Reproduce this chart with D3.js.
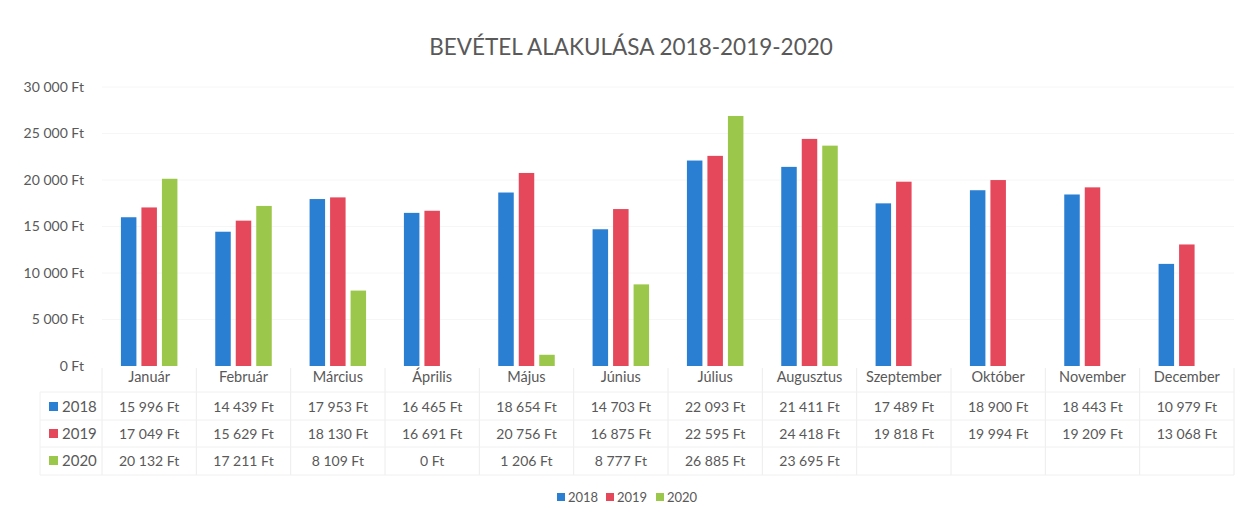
<!DOCTYPE html>
<html><head><meta charset="utf-8">
<script src="https://cdn.jsdelivr.net/npm/d3@7"></script>
<style>body{margin:0;background:#fff}text{font-family:Lato,"Open Sans",sans-serif;fill:#595959}</style>
</head><body><svg id="c" width="1244" height="522"></svg>
<script>
const months = ["Január","Február","Március","Április","Május","Június","Július","Augusztus","Szeptember","Október","November","December"];
const seriesNames = ["2018","2019","2020"];
const v2018 = [15996,14439,17953,16465,18654,14703,22093,21411,17489,18900,18443,10979];
const v2019 = [17049,15629,18130,16691,20756,16875,22595,24418,19818,19994,19209,13068];
const v2020 = [20132,17211,8109,0,1206,8777,26885,23695,null,null,null,null];
const colors = ["#2b7fd3","#e5475b","#9bc84b"];
const yTicks = [0,5000,10000,15000,20000,25000,30000];
const title = "BEVÉTEL ALAKULÁSA 2018-2019-2020";

const values = [v2018, v2019, v2020];
const loc = d3.formatLocale({decimal:",", thousands:"\u00a0", grouping:[3], currency:["","\u00a0Ft"]});
const fmt = loc.format("$,.0f");

const svg = d3.select("#c");
const L = 102, R = 1234, T = 87, B = 366;
const x = d3.scaleBand().domain(months).range([L, R]);
const x1 = d3.scaleBand().domain(seriesNames).range([-28.25, 28.25]).paddingInner(0.244);
const y = d3.scaleLinear().domain([0, 30000]).range([B, T]);

svg.append("text").attr("x", 631).attr("y", 55).attr("text-anchor","middle")
  .style("font-size","22.5px").text(title);

// gridlines
svg.append("g").selectAll("line").data(yTicks.slice(1)).join("line")
  .attr("x1", L).attr("x2", R).attr("y1", d=>y(d)).attr("y2", d=>y(d))
  .attr("stroke","#f6f6f6");

// y axis
const ya = svg.append("g").attr("transform",`translate(${L-15},0)`)
  .call(d3.axisLeft(y).tickValues(yTicks).tickFormat(fmt).tickSize(0));
ya.select(".domain").remove();
ya.selectAll("text").style("font-size","14px").style("font-family","Lato,sans-serif").attr("fill","#595959");

// bars
seriesNames.forEach((s, si) => {
  svg.append("g").selectAll("rect")
    .data(months.map((m, i) => ({m, v: values[si][i]})).filter(d => d.v != null))
    .join("rect")
    .attr("x", d => x(d.m) + x.bandwidth()/2 + x1(s))
    .attr("width", x1.bandwidth())
    .attr("y", d => y(d.v))
    .attr("height", d => B - y(d.v))
    .attr("fill", colors[si]);
});

// data table
const tbl = svg.append("g");
const rowY = [377, 407, 434, 461];
const tTop = 368, tBot = 475, tLeft = 40;
tbl.selectAll("line.v").data(months.slice(1)).join("line")
  .attr("x1", d=>x(d)).attr("x2", d=>x(d)).attr("y1", tTop).attr("y2", tBot)
  .attr("stroke","#ececec");
tbl.append("line").attr("x1", L).attr("x2", L).attr("y1", tTop).attr("y2", tBot).attr("stroke","#ececec");
tbl.append("line").attr("x1", R).attr("x2", R).attr("y1", tTop).attr("y2", tBot).attr("stroke","#ececec");
[392, 420, 447, 475].forEach(yy => {
  tbl.append("line").attr("x1", tLeft).attr("x2", R).attr("y1", yy).attr("y2", yy).attr("stroke","#f0f0f0");
});
tbl.append("line").attr("x1", tLeft).attr("x2", tLeft).attr("y1", 392).attr("y2", tBot).attr("stroke","#f0f0f0");

tbl.selectAll("text.m").data(months).join("text")
  .attr("x", d => x(d) + x.bandwidth()/2).attr("y", rowY[0] + 5)
  .attr("text-anchor","middle").style("font-size","14.5px").text(d => d);

seriesNames.forEach((s, si) => {
  const yy = rowY[si+1];
  tbl.append("rect").attr("x", 49).attr("y", yy - 5).attr("width", 9).attr("height", 9).attr("fill", colors[si]);
  tbl.append("text").attr("x", 62).attr("y", yy + 5).style("font-size","15px").text(s);
  tbl.append("g").selectAll("text")
    .data(months.map((m, i) => ({m, v: values[si][i]})).filter(d => d.v != null))
    .join("text")
    .attr("x", d => x(d.m) + x.bandwidth()/2).attr("y", yy + 5)
    .attr("text-anchor","middle").style("font-size","14px").text(d => fmt(d.v));
});

// legend
const lg = svg.append("g");
const lgX = [557, 606, 656];
seriesNames.forEach((s, si) => {
  lg.append("rect").attr("x", lgX[si]).attr("y", 493).attr("width", 8).attr("height", 8).attr("fill", colors[si]);
  lg.append("text").attr("x", lgX[si] + 11).attr("y", 501.5).style("font-size","13px").text(s);
});
</script></body></html>
